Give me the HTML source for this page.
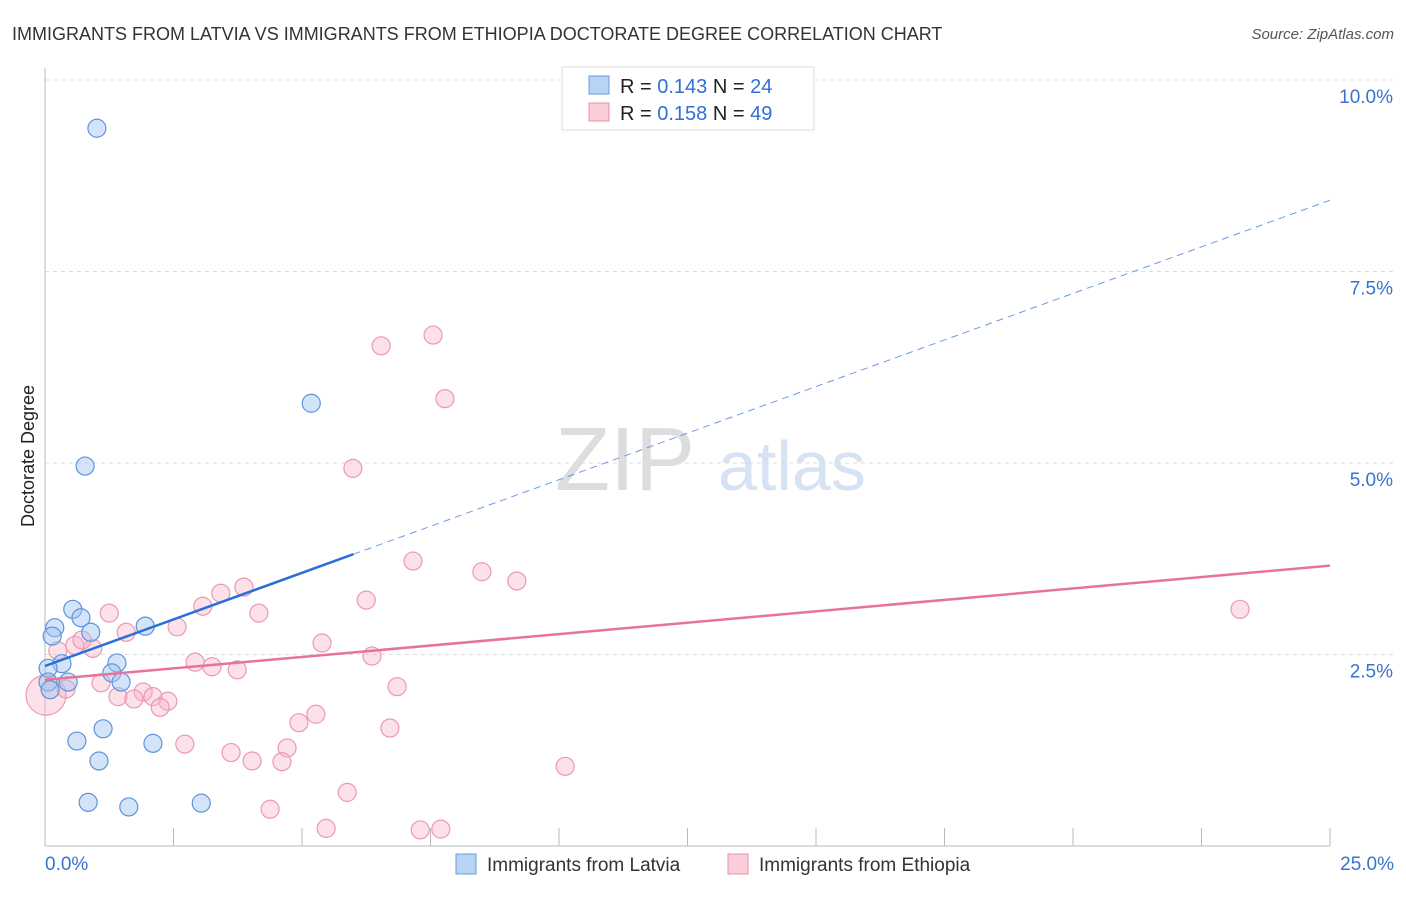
<!DOCTYPE html>
<html><head><meta charset="utf-8"><style>
body{margin:0;background:#fff;font-family:"Liberation Sans",sans-serif}
svg text{font-family:"Liberation Sans",sans-serif}
</style></head><body>
<svg id="c" width="1406" height="892">
<text x="12" y="40" font-size="18" fill="#333">IMMIGRANTS FROM LATVIA VS IMMIGRANTS FROM ETHIOPIA DOCTORATE DEGREE CORRELATION CHART</text>
<text x="1394" y="39" font-size="15" fill="#555" text-anchor="end" font-style="italic">Source: ZipAtlas.com</text>
<text x="34" y="456" font-size="18" fill="#222" text-anchor="middle" transform="rotate(-90 34 456)">Doctorate Degree</text>
<text x="555" y="490" font-size="90" fill="#ddd" font-family="Liberation Serif">ZIP</text>
<text x="718" y="490" font-size="70" fill="#d5e3f3">atlas</text>
<g id="grid"></g><g id="axes"></g><g id="marks"></g>
<g>
<rect x="562" y="67" width="252" height="63" fill="#fff" stroke="#ddd"/>
<rect x="589" y="76" width="20" height="18" fill="#b8d4f5" stroke="#6a9be0"/>
<text x="620" y="93" font-size="20" fill="#222">R = <tspan fill="#2f6fd6">0.143</tspan>   N = <tspan fill="#2f6fd6">24</tspan></text>
<rect x="589" y="103" width="20" height="18" fill="#fbcdd9" stroke="#ec90ab"/>
<text x="620" y="120" font-size="20" fill="#222">R = <tspan fill="#2f6fd6">0.158</tspan>   N = <tspan fill="#2f6fd6">49</tspan></text>
</g>
<g>
<rect x="456" y="854" width="20" height="20" fill="#b8d4f5" stroke="#6a9be0"/>
<text x="487" y="871" font-size="19" fill="#333">Immigrants from Latvia</text>
<rect x="728" y="854" width="20" height="20" fill="#fbcdd9" stroke="#ec90ab"/>
<text x="759" y="871" font-size="19" fill="#333">Immigrants from Ethiopia</text>
</g>
</svg>
<script>
const yTicks=[2.5,5,7.5,10];
const yTickLabels=["2.5%","5.0%","7.5%","10.0%"];
const xTicks=[0,2.5,5,7.5,10,12.5,15,17.5,20,22.5,25];
const latviaX=[1.01,5.18,0.78,0.54,0.19,0.70,0.14,0.89,1.95,0.33,0.06,1.40,1.30,0.45,1.48,0.06,1.13,0.62,2.10,1.05,0.84,1.63,3.04,0.10];
const latviaY=[9.37,5.78,4.96,3.09,2.85,2.98,2.74,2.79,2.87,2.38,2.32,2.39,2.26,2.14,2.14,2.14,1.53,1.37,1.34,1.11,0.57,0.51,0.56,2.04];
const ethX=[0.02,7.55,6.54,7.78,5.99,7.16,8.50,9.18,3.87,6.25,3.42,3.07,1.25,4.16,2.57,1.58,5.39,0.25,0.58,0.93,0.72,2.92,3.25,3.74,6.36,1.09,0.41,6.85,1.91,2.10,1.42,1.73,2.39,2.24,5.27,4.94,6.71,2.72,4.71,3.62,4.03,4.61,10.12,5.88,4.38,5.47,7.30,7.70,23.25];
const ethY=[1.97,6.67,6.53,5.84,4.93,3.72,3.58,3.46,3.38,3.21,3.30,3.13,3.04,3.04,2.86,2.79,2.65,2.55,2.62,2.58,2.69,2.40,2.34,2.30,2.48,2.13,2.05,2.08,2.01,1.95,1.95,1.92,1.89,1.81,1.72,1.61,1.54,1.33,1.28,1.22,1.11,1.10,1.04,0.70,0.48,0.23,0.21,0.22,3.09];
const latviaTrend=[2.35,8.43];
const ethTrend=[2.17,3.66];
const X=v=>45+v*51.4, Y=v=>846-v*76.6;
const NS="http://www.w3.org/2000/svg";
function mk(t,a,p){const e=document.createElementNS(NS,t);for(const k in a)e.setAttribute(k,a[k]);p.appendChild(e);return e;}
const g=document.getElementById('grid'),ax=document.getElementById('axes'),m=document.getElementById('marks');
yTicks.forEach((t,i)=>{const l=mk('line',{x1:45,x2:1395,y1:Y(t),y2:Y(t),stroke:'#ddd','stroke-dasharray':'4,4'},g);


const tx=mk('text',{x:1393,y:Y(t)+23,'font-size':19,fill:'#3a72d0','text-anchor':'end'},g);tx.textContent=yTickLabels[i];

});
const ya=mk('line',{x1:45,x2:45,y1:68,y2:846,stroke:'#bbb'},ax);


const xa=mk('line',{x1:45,x2:1330,y1:846,y2:846,stroke:'#bbb'},ax);


xTicks.forEach(t=>{const l=mk('line',{x1:X(t),x2:X(t),y1:828,y2:846,stroke:'#bbb'},ax);

});
[[0,"0.0%",45,'start'],[25,"25.0%",1394,'end']].forEach(a=>{const tx=mk('text',{x:a[2],y:870,'font-size':19,fill:'#3a72d0','text-anchor':a[3]},ax);tx.textContent=a[1];

});
ethX.forEach((x,i)=>{const c=mk('circle',{cx:X(x),cy:Y(ethY[i]),r:i==0?20:9,fill:'rgba(248,180,200,0.4)',stroke:'#ec98b2','stroke-width':1.2},m);

});
latviaX.forEach((x,i)=>{const c=mk('circle',{cx:X(x),cy:Y(latviaY[i]),r:9,fill:'rgba(160,196,240,0.45)',stroke:'#5d93dc','stroke-width':1.2},m);

});
const lt=v=>latviaTrend[0]+(latviaTrend[1]-latviaTrend[0])*v/25;
const l1=mk('line',{x1:X(0),y1:Y(lt(0)),x2:X(6),y2:Y(lt(6)),stroke:'#2a6fd8','stroke-width':2.5},m);


const l2=mk('line',{x1:X(6),y1:Y(lt(6)),x2:X(25),y2:Y(lt(25)),stroke:'#6a9be0','stroke-width':1,'stroke-dasharray':'7,5'},m);


const l3=mk('line',{x1:X(0),y1:Y(ethTrend[0]),x2:X(25),y2:Y(ethTrend[1]),stroke:'#e8739a','stroke-width':2.5},m);


</script>
</body></html>
